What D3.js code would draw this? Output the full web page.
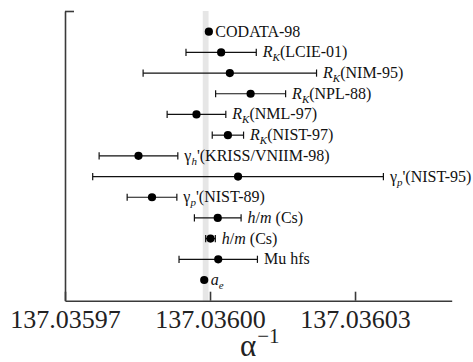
<!DOCTYPE html>
<html>
<head>
<meta charset="utf-8">
<script src="https://cdn.jsdelivr.net/npm/d3@7/dist/d3.min.js"></script>
<style>
  html, body { margin: 0; padding: 0; background: #fff; }
  svg { display: block; }
  text { font-family: "Liberation Serif", "Times New Roman", serif; }
  .axis path, .axis line { stroke: #3a3a3a; stroke-width: 1.6; }
  .axis text { fill: #222; font-size: 26px; }
  .bar { stroke: #111; stroke-width: 1.2; }
  .label { font-size: 16px; fill: #111; }
</style>
</head>
<body>
<svg id="chart"></svg>
<script>
// measurements of the inverse fine-structure constant
var labels = [
  'CODATA-98',
  '*R*_{*K*}(LCIE-01)',
  '*R*_{*K*}(NIM-95)',
  '*R*_{*K*}(NPL-88)',
  '*R*_{*K*}(NML-97)',
  '*R*_{*K*}(NIST-97)',
  'γ_{*h*}\'(KRISS/VNIIM-98)',
  'γ_{*p*}\'(NIST-95)',
  'γ_{*p*}\'(NIST-89)',
  '*h*/*m* (Cs)',
  '*h*/*m* (Cs)',
  'Mu hfs',
  '*a*_{*e*}'
];
var values = [
  137.03599976, 137.0360023, 137.0360041, 137.0360084, 137.0359972,
  137.0360037, 137.0359852, 137.0360058, 137.0359880, 137.0360016,
  137.0360001, 137.0360017, 137.0359988
];
var errors = [
  0, 0.00000727, 0.00001794, 0.00000724, 0.00000607,
  0.00000324, 0.00000814, 0.00003007, 0.00000514, 0.00000483,
  0.00000100, 0.00000811, 0
];
var band = [137.0359985, 137.0359997];
var xTicks = [137.03597, 137.03600, 137.03603];
var xDomain = [137.03597, 137.03605];

var W = 473, H = 362;
var svg = d3.select('#chart').attr('width', W).attr('height', H);

var x = d3.scaleLinear().domain(xDomain).range([65, 451.7]);
var y = d3.scaleLinear().domain([0, 14]).range([11, 300.7]);

// grey band
svg.append('rect')
  .attr('x', x(band[0]))
  .attr('width', x(band[1]) - x(band[0]))
  .attr('y', y(0))
  .attr('height', y(14) - y(0))
  .attr('fill', '#e6e6e6');

// axes
var axisX = d3.axisBottom(x).tickValues(xTicks)
  .tickFormat(d3.format('.5f')).tickSizeInner(-9).tickSizeOuter(0).tickPadding(0);
var gx = svg.append('g').attr('class', 'axis axis-x')
  .attr('transform', 'translate(0,' + y(14) + ')').call(axisX);
gx.attr('font-family', null);
gx.selectAll('text').attr('y', 27.5).attr('dy', 0);

var axisY = d3.axisLeft(y).tickValues([0]).tickFormat('').tickSizeInner(-9).tickSizeOuter(0);
svg.append('g').attr('class', 'axis axis-y')
  .attr('transform', 'translate(' + x(xDomain[0]) + ',0)').call(axisY)
  .attr('font-family', null);

// axis title
var title = svg.append('text').attr('x', 240).attr('y', 356)
  .attr('fill', '#222').style('font-size', '31px');
title.append('tspan').text('α');
title.append('tspan').attr('dy', -13).attr('dx', 1).style('font-size', '21px').text('−1');

// rows
var rows = labels.map(function (l, i) {
  return { label: l, value: values[i], err: errors[i], row: i + 1 };
});

var g = svg.append('g');
var capH = 3.6;

rows.forEach(function (d) {
  var cy = y(d.row);
  if (d.err > 0) {
    g.append('line').attr('class', 'bar')
      .attr('x1', x(d.value - d.err)).attr('x2', x(d.value + d.err))
      .attr('y1', cy).attr('y2', cy);
    [d.value - d.err, d.value + d.err].forEach(function (v) {
      g.append('line').attr('class', 'bar')
        .attr('x1', x(v)).attr('x2', x(v))
        .attr('y1', cy - capH).attr('y2', cy + capH);
    });
  }
  g.append('circle').attr('cx', x(d.value)).attr('cy', cy).attr('r', 4.1).attr('fill', '#000');

  var lx = Math.max(x(d.value + d.err), x(d.value)) + 6.5;
  var t = g.append('text').attr('class', 'label').attr('x', lx).attr('y', cy + 5);
  addLabel(t, d.label);
});

// tiny markup: *italic*, _{subscript}
function addLabel(t, s) {
  var re = /_\{([^}]*)\}|\*([^*]*)\*|([^*_]+)/g, m, shifted = false;
  while ((m = re.exec(s)) !== null) {
    var sp = t.append('tspan');
    if (m[1] !== undefined) {
      sp.text(m[1].replace(/\*/g, '')).style('font-size', '11px')
        .style('font-style', m[1].indexOf('*') >= 0 ? 'italic' : 'normal')
        .attr('dy', 4);
      shifted = true;
      continue;
    }
    if (shifted) { sp.attr('dy', -4); shifted = false; }
    if (m[2] !== undefined) sp.text(m[2]).style('font-style', 'italic');
    else sp.text(m[3]);
  }
}
</script>
</body>
</html>
